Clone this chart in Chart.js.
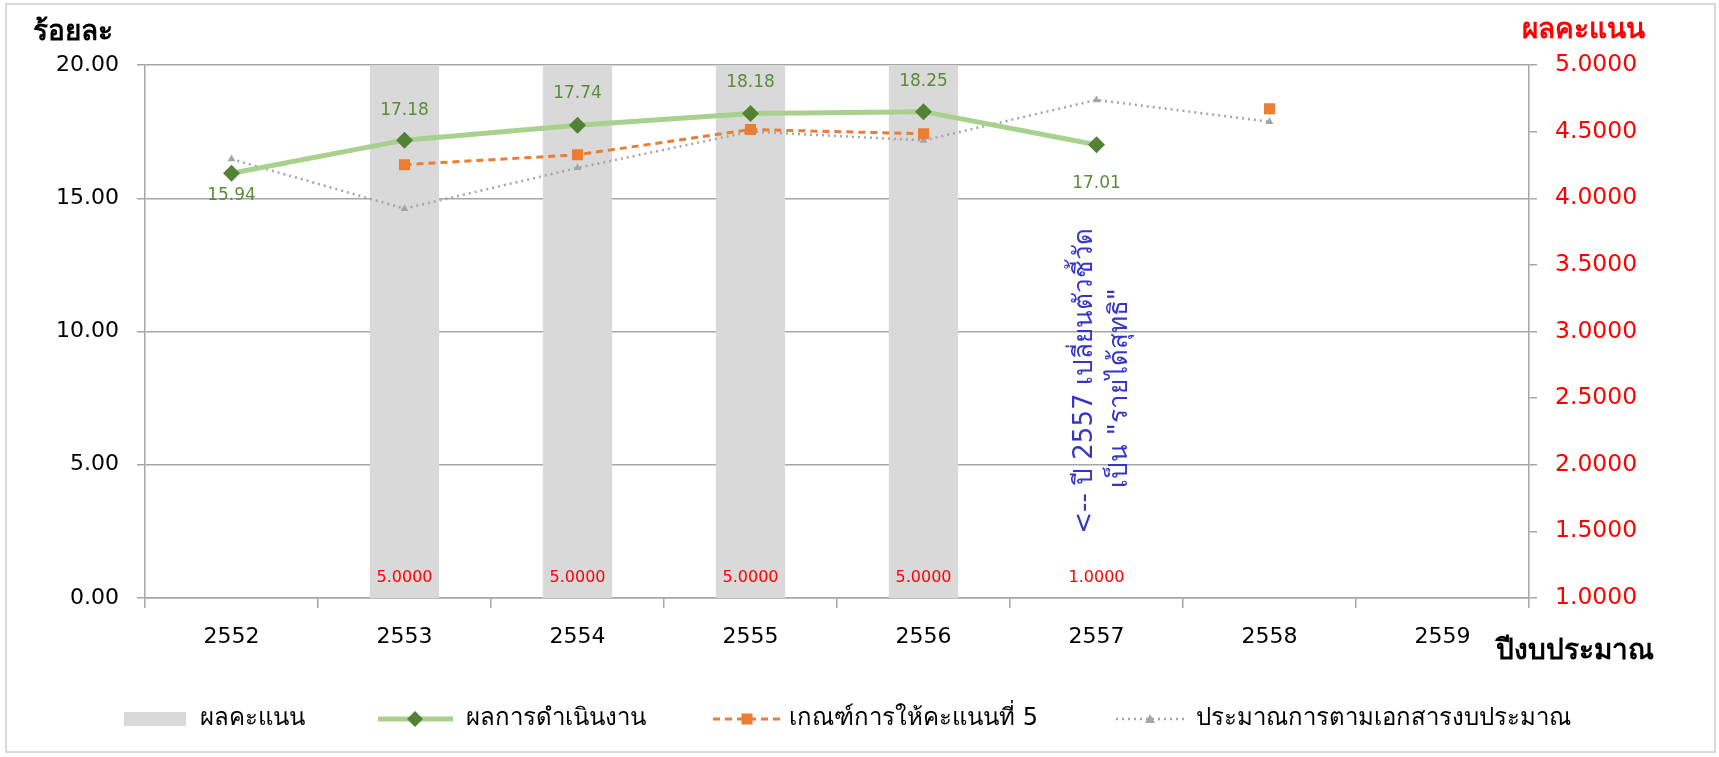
<!DOCTYPE html>
<html><head><meta charset="utf-8">
<script src="https://cdn.jsdelivr.net/npm/chart.js@4.4.1/dist/chart.umd.min.js"></script>
<style>html,body{margin:0;padding:0;background:#fff;}#wrap{width:1719px;height:757px;position:relative;}</style>
</head><body><div id="wrap"><canvas id="c" width="1719" height="757"></canvas></div>
<script>
const years = ['2552','2553','2554','2555','2556','2557','2558','2559'];
const scoreValues = [null, 5, 5, 5, 5, 1, null, null];
const performance = [15.94, 17.18, 17.74, 18.18, 18.25, 17.01, null, null];
const criterion5 = [null, 16.26, 16.63, 17.58, 17.42, null, 18.36, null];
const budgetEstimate = [16.47, 14.61, 16.14, 17.50, 17.17, 18.69, 17.87, null];
const seriesNames = ['ผลคะแนน', 'ผลการดำเนินงาน', 'เกณฑ์การให้คะแนนที่ 5', 'ประมาณการตามเอกสารงบประมาณ'];
const leftTitle = 'ร้อยละ';
const rightTitle = 'ผลคะแนน';
const xTitle = 'ปีงบประมาณ';
const noteLines = ['<-- ปี 2557 เปลี่ยนตัวชี้วัด', 'เป็น "รายได้สุทธิ"'];

const FONT = "Tahoma, 'DejaVu Sans', sans-serif";
const GREEN_LINE = '#A9D18E', GREEN_DARK = '#548235', ORANGE = '#ED7D31', GREY = '#A5A5A5', BAR = '#D9D9D9', AXIS = '#A6A6A6';

const decorPlugin = {
  id: 'decor',
  beforeDraw(chart) {
    const ctx = chart.ctx;
    ctx.save();
    ctx.fillStyle = '#fff';
    ctx.fillRect(0, 0, chart.width, chart.height);
    ctx.strokeStyle = '#D9D9D9';
    ctx.lineWidth = 2;
    ctx.strokeRect(6, 4, 1709, 748);
    ctx.restore();
  },
  afterDatasetsDraw(chart) {
    const ctx = chart.ctx;
    const xs = chart.scales.x;
    ctx.save();
    // bar labels
    ctx.font = '16px ' + FONT;
    ctx.fillStyle = '#FF0000';
    ctx.textAlign = 'center';
    ctx.textBaseline = 'middle';
    scoreValues.forEach((v, i) => {
      if (v === null) return;
      ctx.fillText(v.toFixed(4), xs.getPixelForValue(i), chart.chartArea.bottom - 20);
    });
    // performance labels
    const offs = [22, -30, -32, -31, -30, 39];
    const meta = chart.getDatasetMeta(1);
    ctx.font = '17px ' + FONT;
    ctx.fillStyle = '#5B8C3A';
    performance.forEach((v, i) => {
      if (v === null) return;
      const p = meta.data[i];
      ctx.fillText(v.toFixed(2), p.x, p.y + offs[i]);
    });
    // note
    ctx.fillStyle = '#3535C8';
    ctx.font = '26px ' + FONT;
    ctx.translate(1085, 381);
    ctx.rotate(-Math.PI / 2);
    ctx.fillText(noteLines[0], 0, 0);
    ctx.fillText(noteLines[1], -7, 35);
    ctx.restore();
  },
  afterDraw(chart) {
    const ctx = chart.ctx;
    ctx.save();
    ctx.textBaseline = 'middle';
    // titles
    ctx.font = 'bold 28px ' + FONT;
    ctx.fillStyle = '#000';
    ctx.textAlign = 'left';
    ctx.fillText(leftTitle, 33, 33);
    ctx.fillText(xTitle, 1496, 652);
    ctx.fillStyle = '#FF0000';
    ctx.fillText(rightTitle, 1522, 31);
    // legend
    const ly = 719;
    ctx.fillStyle = BAR;
    ctx.fillRect(124, ly - 7, 62, 14);
    // green
    ctx.strokeStyle = GREEN_LINE; ctx.lineWidth = 5; ctx.setLineDash([]);
    ctx.beginPath(); ctx.moveTo(378, ly); ctx.lineTo(453, ly); ctx.stroke();
    ctx.fillStyle = GREEN_DARK;
    ctx.beginPath(); ctx.moveTo(415 - 8, ly); ctx.lineTo(415, ly - 8); ctx.lineTo(415 + 8, ly); ctx.lineTo(415, ly + 8); ctx.closePath(); ctx.fill();
    // orange
    ctx.strokeStyle = ORANGE; ctx.lineWidth = 3; ctx.setLineDash([7, 5]);
    ctx.beginPath(); ctx.moveTo(713, ly); ctx.lineTo(782, ly); ctx.stroke();
    ctx.setLineDash([]);
    ctx.fillStyle = ORANGE; ctx.fillRect(747 - 5.5, ly - 5.5, 11, 11);
    // grey
    ctx.strokeStyle = GREY; ctx.lineWidth = 2.5; ctx.setLineDash([2, 4]);
    ctx.beginPath(); ctx.moveTo(1116, ly); ctx.lineTo(1184, ly); ctx.stroke();
    ctx.setLineDash([]);
    ctx.fillStyle = GREY;
    ctx.beginPath(); ctx.moveTo(1150, ly - 5); ctx.lineTo(1155, ly + 4); ctx.lineTo(1145, ly + 4); ctx.closePath(); ctx.fill();
    // legend texts
    ctx.fillStyle = '#000';
    ctx.font = '24px ' + FONT;
    ctx.fillText(seriesNames[0], 200, ly);
    ctx.fillText(seriesNames[1], 466, ly);
    ctx.fillText(seriesNames[2], 789, ly);
    ctx.fillText(seriesNames[3], 1196, ly);
    ctx.restore();
  }
};

new Chart(document.getElementById('c'), {
  data: {
    labels: years,
    datasets: [
      { type: 'bar', label: seriesNames[0], data: scoreValues, yAxisID: 'y2', backgroundColor: BAR,
        barPercentage: 0.4, categoryPercentage: 1, order: 4 },
      { type: 'line', label: seriesNames[1], data: performance, yAxisID: 'y', borderColor: GREEN_LINE, borderWidth: 5,
        pointStyle: 'rectRot', pointRadius: 8.5, pointBackgroundColor: GREEN_DARK, pointBorderColor: GREEN_DARK, pointBorderWidth: 0,
        spanGaps: false, order: 1, tension: 0 },
      { type: 'line', label: seriesNames[2], data: criterion5, yAxisID: 'y', borderColor: ORANGE, borderWidth: 3, borderDash: [7, 5],
        pointStyle: 'rect', pointRadius: 7.8, pointBackgroundColor: ORANGE, pointBorderColor: ORANGE, pointBorderWidth: 0,
        spanGaps: false, order: 2 },
      { type: 'line', label: seriesNames[3], data: budgetEstimate, yAxisID: 'y', borderColor: GREY, borderWidth: 2.5, borderDash: [2, 4],
        pointStyle: 'triangle', pointRadius: 4.5, pointBackgroundColor: GREY, pointBorderColor: GREY, pointBorderWidth: 0,
        spanGaps: false, order: 3 }
    ]
  },
  options: {
    responsive: false,
    animation: false,
    devicePixelRatio: 1,
    layout: { padding: { top: 65, left: 0, right: 0, bottom: 0 } },
    plugins: { legend: { display: false }, tooltip: { enabled: false } },
    scales: {
      x: {
        type: 'category', offset: true,
        grid: { offset: true, drawOnChartArea: false, drawTicks: true, tickLength: 10, color: AXIS, lineWidth: 1.5 },
        border: { color: AXIS, width: 1.5 },
        ticks: { color: '#000', font: { family: FONT, size: 22 }, padding: 16 },
        afterFit(s) { s.height = 159; }
      },
      y: {
        position: 'left', min: 0, max: 20,
        ticks: { stepSize: 5, color: '#000', font: { family: FONT, size: 22 }, padding: 18, callback: v => Number(v).toFixed(2) },
        grid: { color: AXIS, lineWidth: 1.5, tickLength: 8 },
        border: { color: AXIS, width: 1.5 },
        afterFit(s) { s.width = 145; }
      },
      y2: {
        position: 'right', min: 1, max: 5,
        ticks: { stepSize: 0.5, color: '#FF0000', font: { family: FONT, size: 23.5 }, padding: 18, callback: v => Number(v).toFixed(4) },
        grid: { drawOnChartArea: false, color: AXIS, lineWidth: 1.5, tickLength: 8 },
        border: { color: AXIS, width: 1.5 },
        afterFit(s) { s.width = 190; }
      }
    }
  },
  plugins: [decorPlugin]
});
</script></body></html>
